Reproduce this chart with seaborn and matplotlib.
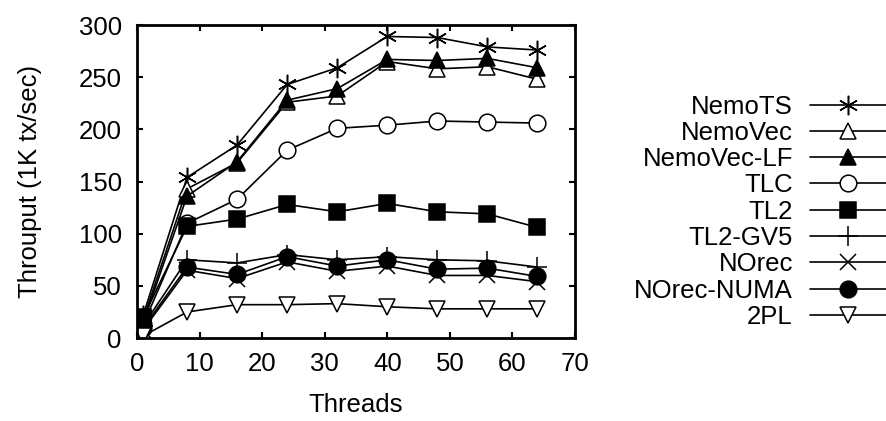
import matplotlib
matplotlib.use("Agg")
import matplotlib.pyplot as plt
import seaborn as sns
import pandas as pd

threads = [1, 8, 16, 24, 32, 40, 48, 56, 64]

nemots = [22, 154, 185, 243, 259, 289, 288, 279, 276]
nemovec = [18, 143, 168, 226, 232, 265, 258, 260, 248]
nemovec_lf = [15, 136, 169, 228, 239, 267, 266, 268, 259]
tlc = [13, 110, 133, 180, 201, 204, 208, 207, 206]
tl2 = [20, 107, 114, 128, 121, 129, 121, 119, 106]
tl2_gv5 = [12, 75, 72, 80, 75, 78, 75, 74, 68]
norec = [8, 65, 57, 73, 64, 69, 60, 60, 54]
norec_numa = [10, 68, 61, 78, 69, 75, 66, 67, 59]
twopl = [2, 25, 32, 32, 33, 30, 28, 28, 28]

series_names = ["NemoTS", "NemoVec", "NemoVec-LF", "TLC", "TL2",
                "TL2-GV5", "NOrec", "NOrec-NUMA", "2PL"]
series_values = [nemots, nemovec, nemovec_lf, tlc, tl2,
                 tl2_gv5, norec, norec_numa, twopl]

styles = {
    "NemoTS": dict(marker=(6, 2, 0), mfc="black", ms=14),
    "NemoVec": dict(marker="^", mfc="white", ms=12),
    "NemoVec-LF": dict(marker="^", mfc="black", ms=12),
    "TLC": dict(marker="o", mfc="white", ms=12),
    "TL2": dict(marker="s", mfc="black", ms=12),
    "TL2-GV5": dict(marker="+", mfc="black", ms=14),
    "NOrec": dict(marker="x", mfc="black", ms=11),
    "NOrec-NUMA": dict(marker="o", mfc="black", ms=12),
    "2PL": dict(marker="v", mfc="white", ms=12),
}

FS = 18.5
sns.set_style("ticks", {"axes.edgecolor": "black", "text.color": "black",
                        "axes.labelcolor": "black", "xtick.color": "black",
                        "ytick.color": "black"})
plt.rcParams["font.family"] = ["Liberation Sans", "DejaVu Sans"]
plt.rcParams["font.size"] = FS

fig = plt.figure(figsize=(8.86, 4.21), dpi=100)
ax = fig.add_axes([0.1546, 0.197, 0.649 - 0.1546, 0.9406 - 0.197])

for name, vals in zip(series_names, series_values):
    df = pd.DataFrame({"Threads": threads, "val": vals})
    st = styles[name]
    sns.lineplot(data=df, x="Threads", y="val", ax=ax, color="black",
                 linewidth=1.2, marker=st["marker"], markersize=st["ms"],
                 markerfacecolor=st["mfc"], markeredgecolor="black",
                 markeredgewidth=1.1, label=name)

ax.set_xlim(0, 70)
ax.set_ylim(0, 300)
ax.set_xticks(range(0, 71, 10))
ax.set_yticks(range(0, 301, 50))
ax.tick_params(direction="in", length=4, width=1.5, top=True, right=True,
               labelsize=FS, colors="black")
ax.tick_params(axis="x", pad=10)
ax.tick_params(axis="y", pad=11)
for s in ax.spines.values():
    s.set_linewidth(2)
    s.set_visible(True)
    s.set_edgecolor("black")
ax.set_xlabel("Threads", fontsize=FS, labelpad=12, color="black")
ax.set_ylabel("Throuput (1K tx/sec)", fontsize=FS, labelpad=26, color="black")

leg = ax.legend(loc="center right", bbox_to_anchor=(1.0, 0.497),
                bbox_transform=fig.transFigure, frameon=False,
                markerfirst=False, handlelength=2.96, handletextpad=0.66,
                labelspacing=0.09, borderpad=0, borderaxespad=0, fontsize=FS)
for t in leg.get_texts():
    t.set_color("black")

fig.savefig("out.png", dpi=100)
